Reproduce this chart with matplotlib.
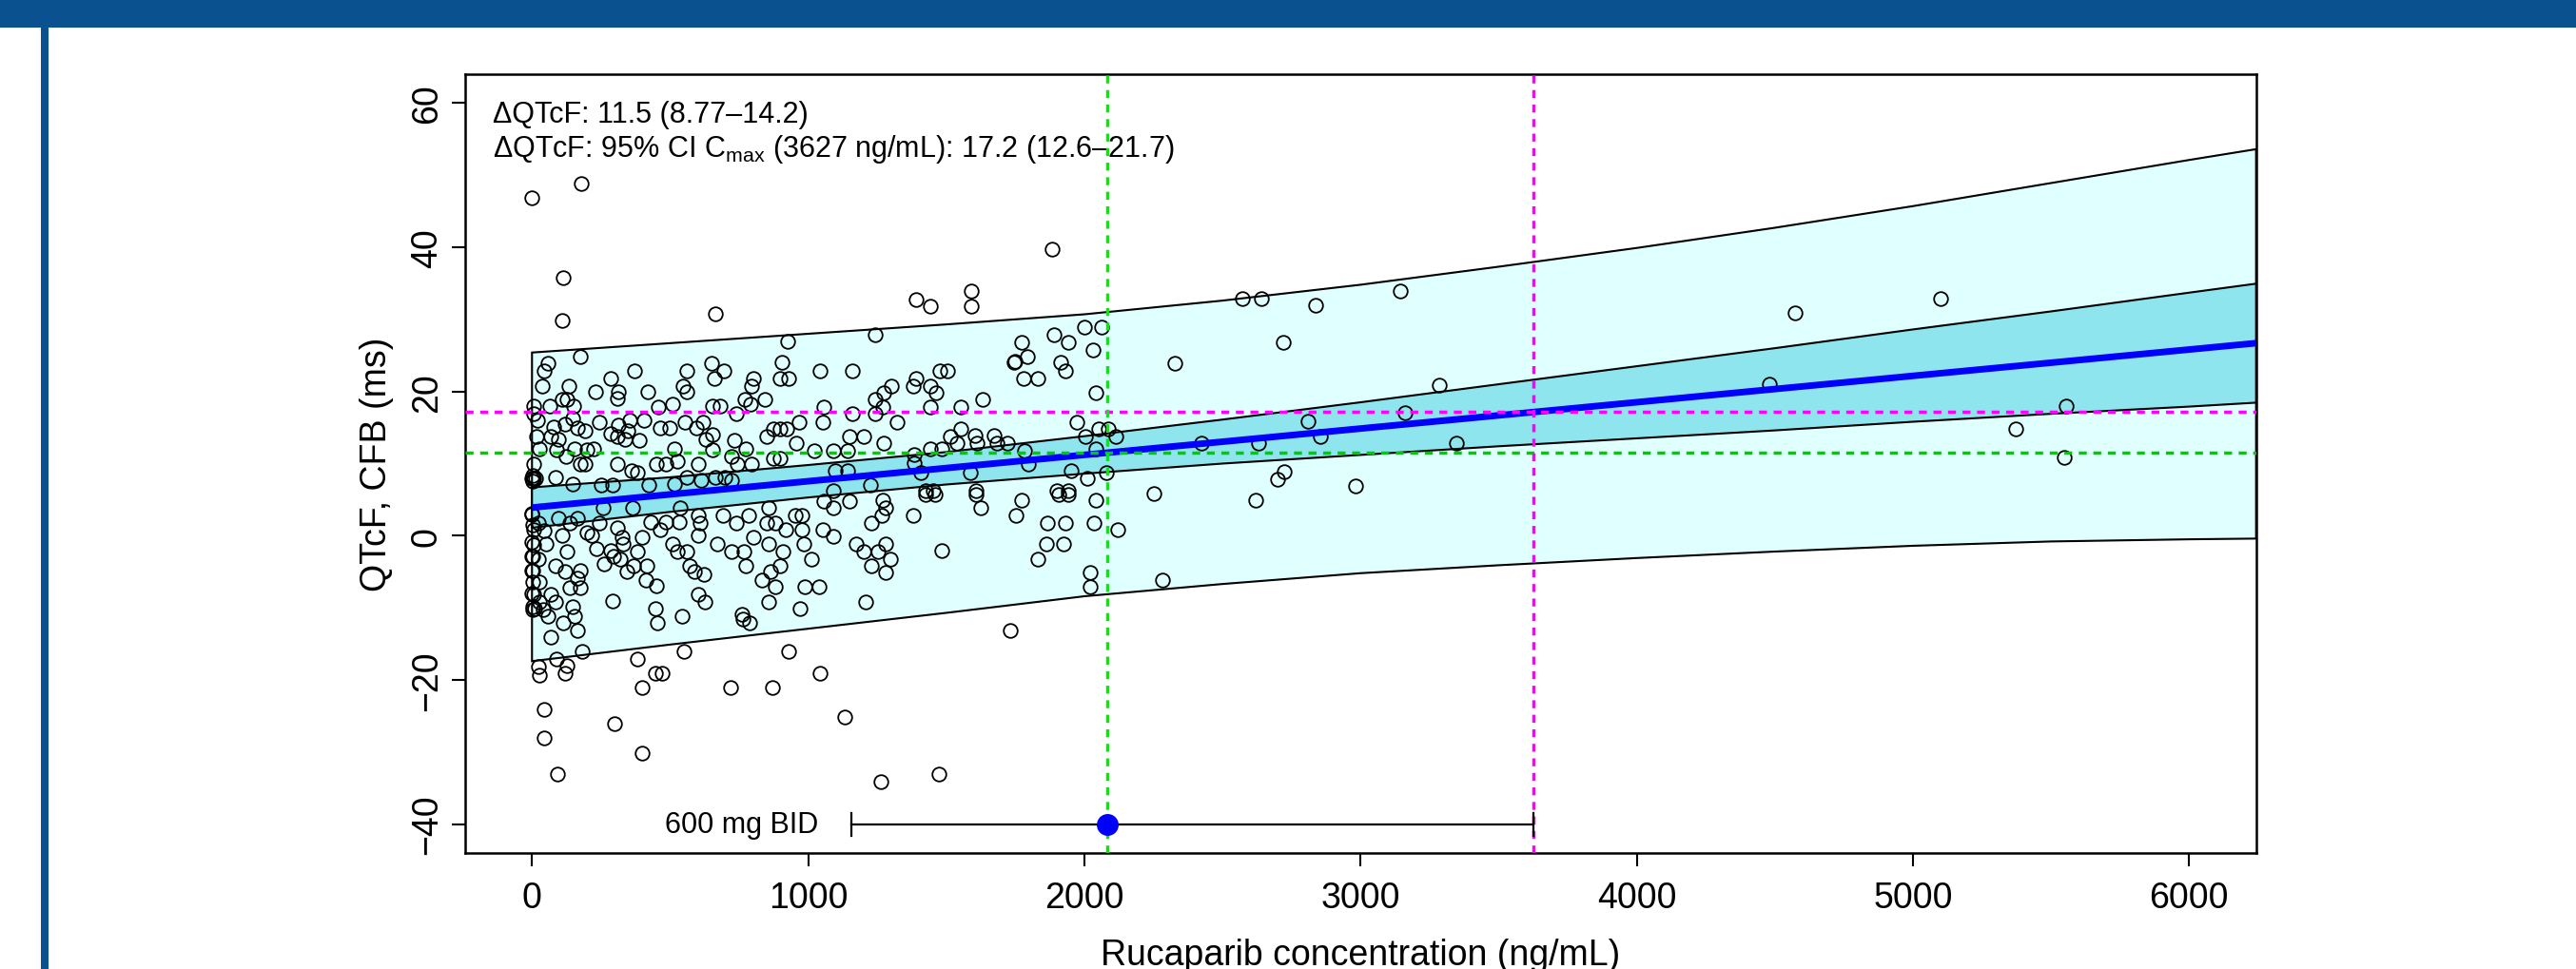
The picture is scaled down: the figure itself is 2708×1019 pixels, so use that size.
import matplotlib
matplotlib.use("Agg")
import matplotlib.pyplot as plt
from matplotlib.patches import Rectangle

plt.rcParams['font.family'] = ['Liberation Sans', 'DejaVu Sans']
plt.rcParams['mathtext.fontset'] = 'custom'
plt.rcParams['mathtext.rm'] = 'Liberation Sans'
plt.rcParams['mathtext.it'] = 'Liberation Sans:italic'
plt.rcParams['mathtext.bf'] = 'Liberation Sans:bold'

# ---------------- data ----------------
conc_obs = [
    0, 179, 112, 108, 665, 174, 56, 45, 36, 134, 229, 285, 314, 310, 371, 420, 562, 547, 562,
    650, 696, 661, 800, 794, 771, 110, 126, 150, 64, 5, 5,
    20, 78, 118, 147, 164, 193, 245, 285, 314, 348, 354, 388, 405, 457, 463, 497, 509, 555, 595,
    618, 652, 629, 652, 681, 738, 790,
    16, 67, 96, 27, 90, 153, 199, 222, 308, 337, 308, 360, 383, 452, 486, 515, 526, 601, 652,
    721, 733, 773, 744, 796, 5, 176, 193, 124,
    0, 5, 14, 84, 147, 250, 291, 423, 515, 561, 612, 664, 698, 721,
    0, 22, 45, 5, 51, 5, 0, 22, 0, 28, 5, 28, 10, 39, 56, 68, 85, 68, 85, 108, 119, 125, 136,
    148, 153, 165, 176, 176, 165, 113, 182, 90, 125, 22, 28, 119, 45, 45, 91, 298, 400, 380,
    400, 448, 471, 551, 719, 293, 448, 454, 543, 603, 626, 764, 787, 759,
    97, 137, 165, 199, 245, 233, 216, 285, 308, 325, 331, 297, 262, 320, 343, 366, 383, 400,
    417, 411, 452, 429, 463, 486, 532, 509, 526, 560, 572, 589, 623, 603, 609, 603, 672, 690,
    738, 721, 767, 773, 784, 801, 538, 365, 256,
    2, 3, 0, 2, 0, 3, 1, 2, 0, 3, 1,
    1883, 1391, 1442, 1592, 1592, 926, 1241, 2002, 2062, 1890, 1942, 2031, 1772, 1793, 1745,
    1750, 1781, 1833, 1913, 1933, 2040, 906, 897, 929, 1044, 1161, 1477, 1506, 1391, 1382,
    1442, 1462, 1301, 1274, 1241, 1270, 1241, 1442, 1551, 1632, 1055, 1052, 968, 1161, 1322,
    842, 1973, 2051, 2086, 2114, 2005, 2043, 874, 899, 922, 851, 957, 1023, 1092, 1144, 1150,
    1201, 1274, 1515, 1554, 1538, 1603, 1611, 1672, 1683, 1721, 1442, 1483, 1385, 1385, 1783,
    1798, 1586, 1408, 1098, 1144, 874, 897, 1953, 2080, 2011, 1224, 1090, 1608, 1424, 1454,
    1902, 1942,
    857, 851, 880, 920, 954, 977, 977, 1052, 1092, 1092, 1058, 1150, 857, 983, 908, 1012, 897,
    863, 834, 880, 989, 1041, 857, 972, 1207, 1172, 1201, 1230, 1265, 1282, 1270, 1253, 1282,
    1299, 1230, 1282, 1382, 1483, 1425, 1460, 1609, 1626, 1772, 1752, 1867, 1933, 1862, 1925,
    1833, 2034, 2043, 2120, 2022, 2022, 1907, 1942, 1732, 928, 1043, 870, 1132, 1262, 1473,
    2572, 2641, 2838, 3144, 2722, 2328, 3284, 2810, 3162, 2854, 2631, 2424, 3347, 2725, 2699,
    2983, 2252, 2621, 2284, 4573, 5101, 4482, 5555, 5373, 5547,
]
qtcf_obs = [
    46.8, 48.8, 35.8, 29.8, 30.8, 24.9, 23.9, 22.9, 20.8, 20.8, 19.9, 21.8, 20.0, 19.0, 22.9, 20.0, 22.9, 20.8, 20.0,
    23.9, 22.9, 21.8, 21.8, 20.8, 18.9, 18.9, 18.9, 18.0, 18.0, 18.0, 16.9,
    16.0, 15.1, 15.5, 16.2, 14.9, 14.6, 15.7, 14.2, 15.3, 14.6, 16.0, 13.2, 16.0, 17.8, 14.9, 14.9, 18.2, 15.7, 14.9,
    15.7, 18.0, 13.4, 14.0, 18.0, 16.9, 18.2,
    13.8, 13.8, 13.4, 12.1, 11.9, 12.1, 11.9, 12.1, 13.8, 13.4, 9.9, 9.0, 8.8, 9.9, 9.9, 12.1, 10.3, 9.9, 11.9,
    11.0, 13.2, 12.1, 9.9, 9.9, 9.9, 9.9, 9.9, 11.0,
    7.9, 7.9, 7.9, 8.1, 7.2, 7.0, 7.0, 7.0, 7.2, 8.1, 7.7, 8.1, 8.1, 7.7,
    2.9, 1.8, 0.7, 0.9, -1.1, -1.3, -2.9, -3.3, -4.8, -6.4, -8.1, -9.2, -10.1, -10.3, -11.2, -8.1, -9.2, -14.0, -4.2, 0.0, -5.0, -2.2, -7.2,
    -9.9, -11.2, -5.9, -4.8, -7.2, -13.2, -12.1, -16.0, -17.1, -18.0, -18.2, -19.3, -19.1, -24.1, -28.1, -33.1, -26.1, -30.1, -17.1,
    -21.1, -19.1, -19.1, -16.0, -21.1, -9.1, -10.1, -12.1, -11.1, -8.1, -9.2, -11.6, -12.1, -10.9,
    2.4, 1.7, 2.4, 0.4, 1.7, -1.8, 0.0, -2.0, 1.1, -0.2, -1.1, -2.9, -3.9, -3.3, -5.0, -4.2, -2.2, -0.2,
    -4.2, -6.1, -7.0, 1.9, 0.9, 1.9, 1.9, -1.1, -2.2, -2.2, -4.2, -5.0, -5.3, 0.0, 1.7, 2.8, -1.1, 2.8,
    1.7, -2.2, -2.2, -4.2, 2.8, -0.2, 3.9, 3.9, 3.9,
    8.3, 7.5, 3.1, 1.5, -0.9, -2.8, -4.8, -6.4, -8.0, -9.9, -10.2,
    39.8, 32.8, 31.8, 33.9, 31.8, 26.9, 27.9, 28.9, 28.9, 27.9, 26.8, 25.8, 26.8, 24.8, 24.0,
    24.2, 21.8, 21.8, 24.0, 22.8, 19.8, 24.0, 21.8, 21.8, 22.8, 22.8, 22.8, 22.8, 21.8, 20.8,
    20.8, 19.8, 20.8, 19.8, 18.9, 17.9, 16.9, 17.9, 17.9, 18.9, 17.9, 15.8, 15.8, 16.9, 15.8,
    18.9, 15.8, 14.8, 14.8, 13.8, 13.8, 12.1, 14.8, 14.8, 14.8, 13.8, 12.9, 11.8, 11.8, 11.8, 13.8,
    13.8, 12.9, 13.8, 14.8, 12.9, 13.9, 12.9, 13.9, 12.9, 12.9, 12.1, 12.1, 11.2, 10.1, 11.8,
    9.9, 8.8, 8.8, 9.0, 9.0, 10.7, 10.7, 9.0, 8.8, 7.9, 7.0, 6.3, 6.3, 6.3, 6.3,
    6.3, 6.3,
    3.9, 1.7, 1.7, 0.9, 2.8, 2.8, 0.9, 0.9, -0.1, 3.9, 4.8, 4.8, -1.1, -1.1, -2.2, -3.2, -4.2,
    -5.0, -6.1, -7.1, -7.1, -7.1, -9.2, -10.1, -9.2, -1.1, -2.2, 1.7, 2.8, 3.9, 4.9, -2.2, -1.1,
    -3.2, -4.2, -5.1, 2.8, -2.1, 5.7, 5.7, 5.7, 3.9, 4.9, 2.8, 1.7, 1.7, -1.1, -1.1,
    -3.2, 1.7, 4.9, 0.9, -5.1, -7.1, 5.7, 5.7, -13.1, -16.0, -19.1, -21.1, -25.1, -34.1, -33.1,
    32.9, 32.9, 31.9, 33.9, 26.8, 23.9, 20.9, 15.9, 17.0, 13.8, 12.8, 12.8, 12.8, 8.9, 7.8,
    6.9, 5.9, 4.9, -6.2, 30.9, 32.9, 21.0, 18.0, 14.8, 10.8,
]

band_conc = [0, 500, 1000, 1500, 2000, 2500, 3000, 3500, 4000, 4500, 5000, 5500, 6000, 6243]
pi_upper = [25.4, 26.7, 28.0, 29.3, 30.7, 32.6, 34.8, 37.3, 39.9, 42.7, 45.7, 48.9, 52.1, 53.6]
pi_lower = [-17.4, -15.1, -12.9, -10.7, -8.4, -6.7, -5.2, -4.1, -3.1, -2.2, -1.4, -0.8, -0.5, -0.4]
ci_upper = [6.7, 8.1, 9.8, 11.6, 13.8, 16.1, 18.5, 21.0, 23.5, 26.0, 28.6, 31.1, 33.7, 34.95]
ci_lower = [1.1, 3.3, 5.3, 7.1, 8.6, 10.0, 11.2, 12.4, 13.5, 14.6, 15.8, 16.9, 17.9, 18.45]

fit_conc = [0, 6243]
fit_qtcf = [3.9, 26.7]

cmean_conc = 2082     # mean Cmax
cmax_hi_conc = 3627   # upper 95% Cmax
dqtc_mean = 11.5
dqtc_hi = 17.2
dose_lo, dose_mid, dose_hi = 1155, 2082, 3627
dose_row_y = -40
dose_label = "600 mg BID"

xticks = [0, 1000, 2000, 3000, 4000, 5000, 6000]
yticks = [-40, -20, 0, 20, 40, 60]
ann1 = "\u0394QTcF: 11.5 (8.77\u201314.2)"
ann2 = "\u0394QTcF: 95% CI C$_{\\mathrm{max}}$ (3627 ng/mL): 17.2 (12.6\u201321.7)"

# ---------------- figure ----------------
W, H = 2708, 1020
fig = plt.figure(figsize=(W / 100, H / 100), dpi=100)
fig.patch.set_facecolor('white')

banner_col = '#0A518F'
fig.add_artist(Rectangle((0, 1 - 30 / H), 1, 30 / H, transform=fig.transFigure,
                         facecolor=banner_col, edgecolor='none'))
fig.add_artist(Rectangle((43 / W, 0), 8 / W, 1 - 30 / H, transform=fig.transFigure,
                         facecolor=banner_col, edgecolor='none'))

ax = fig.add_axes([489 / W, 1 - 898 / H, (2371.7 - 489) / W, (898 - 79) / H])
ax.set_xlim(-242, 6243)
ax.set_ylim(-44, 64)

# prediction band (outer)
ax.fill(band_conc + band_conc[::-1], pi_upper + pi_lower[::-1],
        facecolor='#E0FFFF', edgecolor='black', linewidth=1.5, zorder=1)
# confidence band (inner)
ax.fill(band_conc + band_conc[::-1], ci_upper + ci_lower[::-1],
        facecolor='#8EE5EE', edgecolor='black', linewidth=1.5, zorder=2)

ax.plot(conc_obs, qtcf_obs, linestyle='none', marker='o', markersize=10.5,
        markerfacecolor='none', markeredgecolor='black', markeredgewidth=1.3, zorder=3)

ax.plot(fit_conc, fit_qtcf, color='#0000FF', linewidth=5, solid_capstyle='butt', zorder=4)

dash = dict(linewidth=2.5, dashes=(2.4, 2.0), zorder=5)
ax.axhline(dqtc_hi, color='#FF00FF', **dash)
ax.axhline(dqtc_mean, color='#00CD00', **dash)
ax.axvline(cmean_conc, color='#00EE00', **dash)
ax.axvline(cmax_hi_conc, color='#FF00FF', **dash)

# dose row
ax.plot([dose_lo, dose_hi], [dose_row_y, dose_row_y], color='black', linewidth=1.6, zorder=6)
ax.plot([dose_lo, dose_lo], [dose_row_y - 1.6, dose_row_y + 1.6], color='black', linewidth=1.6, zorder=6)
ax.plot([dose_hi, dose_hi], [dose_row_y - 1.6, dose_row_y + 1.6], color='black', linewidth=1.6, zorder=6)
ax.plot([dose_mid], [dose_row_y], marker='o', markersize=15.5, color='#0000FF', zorder=7)
ax.text(1038, dose_row_y, dose_label, ha='right', va='center', fontsize=22, zorder=7)

ax.text(-143, 57.4, ann1, ha='left', va='baseline', fontsize=22)
ax.text(-143, 52.6, ann2, ha='left', va='baseline', fontsize=22)

ax.set_xticks(xticks)
ax.set_yticks(yticks)
ax.set_xticklabels([str(v) for v in xticks])
ax.set_yticklabels(['\u2212' + str(-v) if v < 0 else str(v) for v in yticks])
ax.tick_params(axis='both', direction='out', length=10, width=1.5, labelsize=27, pad=11)
ax.tick_params(axis='y', pad=6)
for lbl in ax.get_yticklabels():
    lbl.set_rotation(90)
    lbl.set_va('center')
    lbl.set_ha('right')
for sp in ax.spines.values():
    sp.set_linewidth(1.8)

ax.set_xlabel('Rucaparib concentration (ng/mL)', fontsize=27)
ax.xaxis.set_label_coords(0.5, -0.1429)
ax.xaxis.label.set_va('baseline')
ax.set_ylabel('QTcF, CFB (ms)', fontsize=27)
ax.yaxis.set_label_coords(-0.040, 0.5)

fig.savefig('out.png', dpi=100)
